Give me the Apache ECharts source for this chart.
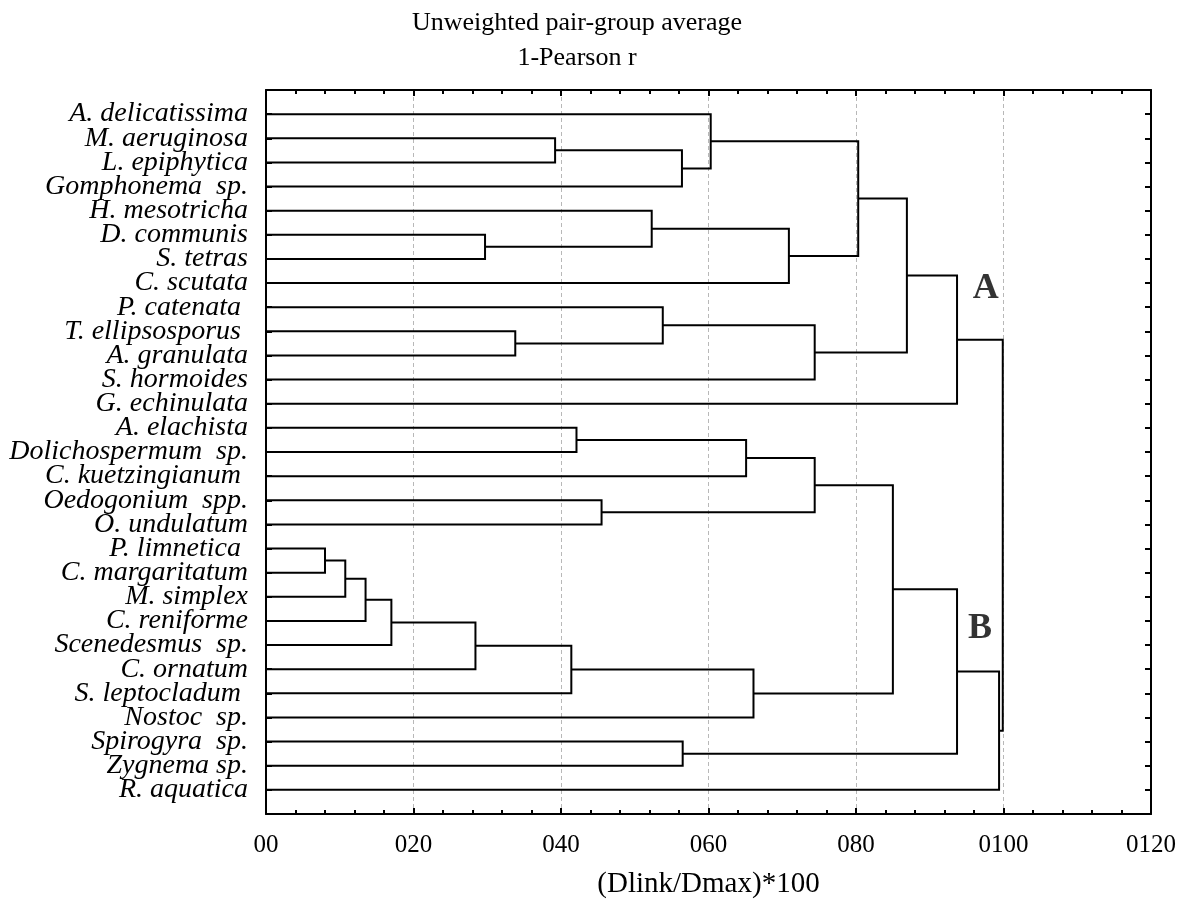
<!DOCTYPE html>
<html>
<head>
<meta charset="utf-8">
<script src="https://cdn.jsdelivr.net/npm/echarts@6/dist/echarts.min.js"></script>
<style>
  html, body { margin: 0; padding: 0; background: #fff; }
  #chart { width: 1186px; height: 907px; }
</style>
</head>
<body>
<div id="chart"></div>
<script>
// leaf names, top to bottom
const species = [
  'A. delicatissima', 'M. aeruginosa', 'L. epiphytica', 'Gomphonema  sp.',
  'H. mesotricha', 'D. communis', 'S. tetras', 'C. scutata',
  'P. catenata ', 'T. ellipsosporus ', 'A. granulata', 'S. hormoides',
  'G. echinulata', 'A. elachista', 'Dolichospermum  sp.', 'C. kuetzingianum ',
  'Oedogonium  spp.', 'O. undulatum', 'P. limnetica ', 'C. margaritatum',
  'M. simplex', 'C. reniforme', 'Scenedesmus  sp.', 'C. ornatum',
  'S. leptocladum ', 'Nostoc  sp.', 'Spirogyra  sp.', 'Zygnema sp.',
  'R. aquatica'
];

// merges: [childA, childB, linkage distance]; ids >= 29 refer to earlier merges
const merges = [
  [1, 2, 39.2],    // 29
  [29, 3, 56.4],   // 30
  [0, 30, 60.3],   // 31
  [5, 6, 29.7],    // 32
  [4, 32, 52.3],   // 33
  [33, 7, 70.9],   // 34
  [31, 34, 80.3],  // 35
  [9, 10, 33.8],   // 36
  [8, 36, 53.8],   // 37
  [37, 11, 74.4],  // 38
  [35, 38, 86.9],  // 39
  [39, 12, 93.7],  // 40  (A)
  [13, 14, 42.1],  // 41
  [41, 15, 65.1],  // 42
  [16, 17, 45.5],  // 43
  [42, 43, 74.4],  // 44
  [18, 19, 8.0],   // 45
  [45, 20, 10.75], // 46
  [46, 21, 13.5],  // 47
  [47, 22, 17.0],  // 48
  [48, 23, 28.4],  // 49
  [49, 24, 41.4],  // 50
  [50, 25, 66.1],  // 51
  [44, 51, 85.0],  // 52
  [26, 27, 56.5],  // 53
  [52, 53, 93.7],  // 54
  [54, 28, 99.4],  // 55
  [40, 55, 99.9]   // 56  root
];

const groupNames = ['A', 'B'];
const groupAt = [[97.6, 7.24], [96.8, 21.33]];

const fontSerif = '"Liberation Serif", "Times New Roman", serif';

// node positions
const nodeY = species.map((s, i) => i);
const nodeH = species.map(() => 0);
const links = [];
merges.forEach(m => {
  const [a, b, h] = m;
  links.push({ coords: [[nodeH[a], nodeY[a]], [h, nodeY[a]], [h, nodeY[b]], [nodeH[b], nodeY[b]]] });
  nodeY.push((nodeY[a] + nodeY[b]) / 2);
  nodeH.push(h);
});

const chart = echarts.init(document.getElementById('chart'), null, { renderer: 'canvas' });

const axisLine = { show: true, onZero: false, lineStyle: { color: '#000', width: 2 } };
const tick = { show: true, inside: true, length: 6, lineStyle: { color: '#000', width: 2 } };
const minor = { show: true, splitNumber: 5, length: 4, lineStyle: { color: '#000', width: 2 } };

const option = {
  animation: false,
  backgroundColor: '#fff',
  title: {
    text: 'Unweighted pair-group average\n1-Pearson r',
    left: 572,
    top: 1,
    textAlign: 'center',
    textStyle: {
      fontFamily: fontSerif, fontSize: 26, fontWeight: 'normal',
      color: '#000', lineHeight: 35
    }
  },
  grid: { left: 266, right: 35, top: 90, bottom: 93, containLabel: false },
  xAxis: [{
    type: 'value', min: 0, max: 120, interval: 20, position: 'bottom',
    axisLine: axisLine, axisTick: tick, minorTick: minor,
    splitLine: { show: true, lineStyle: { color: '#b8b8b8', width: 1, type: [4, 3] } },
    axisLabel: {
      formatter: v => '0' + v, fontFamily: fontSerif, fontSize: 25,
      color: '#000', margin: 19
    },
    name: '(Dlink/Dmax)*100', nameLocation: 'middle', nameGap: 56,
    nameTextStyle: { fontFamily: fontSerif, fontSize: 29, color: '#000' }
  }, {
    type: 'value', min: 0, max: 120, interval: 20, position: 'top',
    axisLine: axisLine, axisTick: tick, minorTick: minor,
    splitLine: { show: false },
    axisLabel: { show: false }
  }],
  yAxis: [{
    type: 'value', min: -1, max: 29, interval: 1, inverse: true, position: 'left',
    axisLine: axisLine, axisTick: tick,
    splitLine: { show: false },
    axisLabel: {
      formatter: v => species[v] || '', fontFamily: fontSerif, fontSize: 28,
      fontStyle: 'italic', color: '#000', margin: 18, padding: [6, 0, 0, 0]
    }
  }, {
    type: 'value', min: -1, max: 29, interval: 1, inverse: true, position: 'right',
    axisLine: axisLine, axisTick: tick,
    splitLine: { show: false },
    axisLabel: { show: false }
  }],
  series: [{
    type: 'lines',
    coordinateSystem: 'cartesian2d',
    xAxisIndex: 0, yAxisIndex: 0,
    polyline: true,
    silent: true,
    lineStyle: { color: '#000', width: 2, opacity: 1 },
    data: links
  }, {
    type: 'scatter',
    xAxisIndex: 0, yAxisIndex: 0,
    symbolSize: 0,
    silent: true,
    itemStyle: { color: '#000' },
    label: {
      show: true, position: 'inside', formatter: p => groupNames[p.dataIndex],
      fontFamily: fontSerif, fontSize: 36, fontWeight: 'bold', color: '#000',
      textBorderWidth: 0
    },
    data: groupAt
  }]
};

chart.setOption(option);
</script>
</body>
</html>
